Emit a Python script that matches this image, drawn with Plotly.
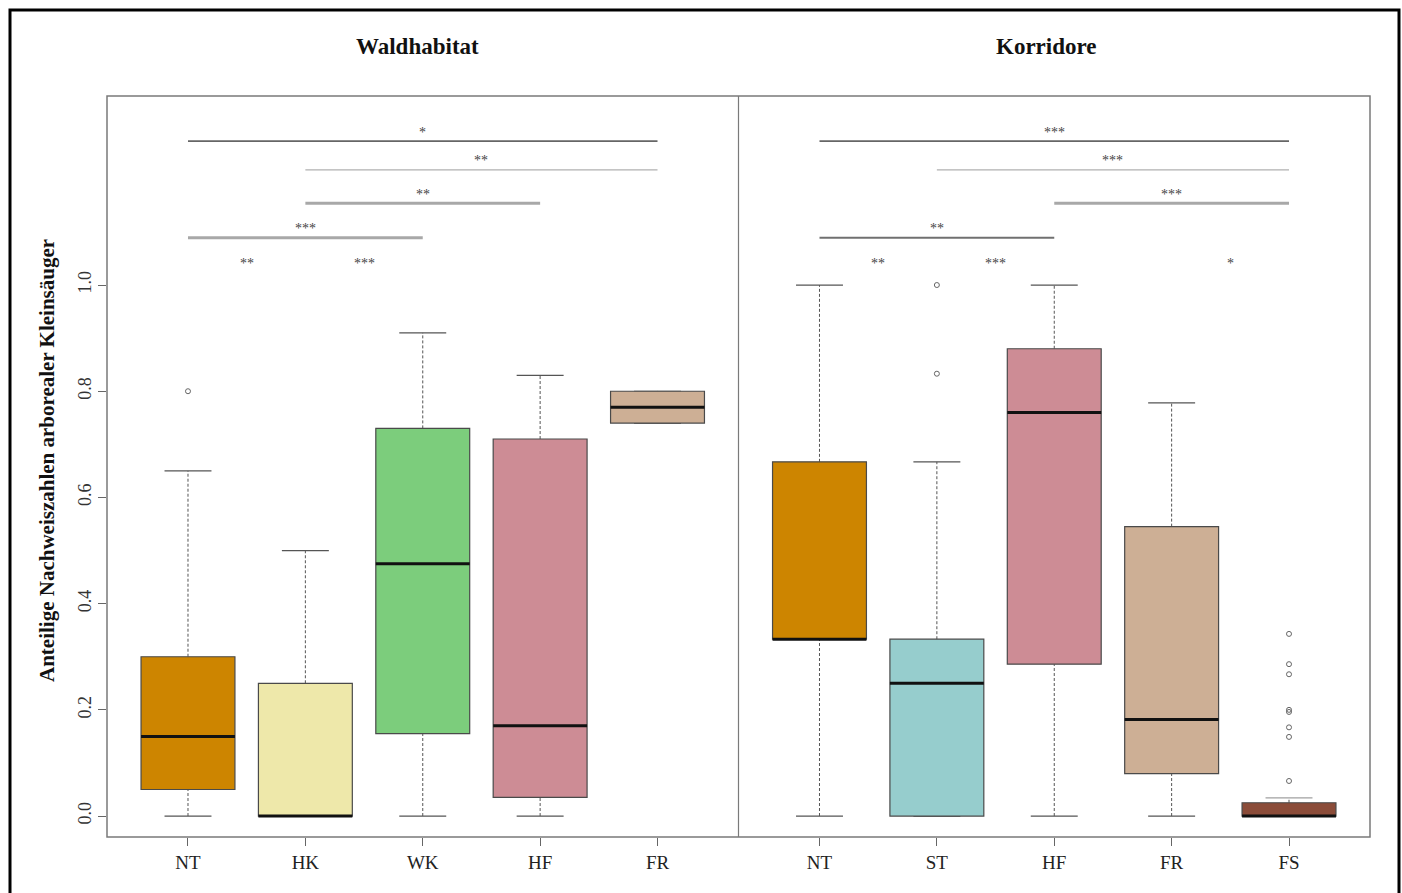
import plotly.graph_objects as go
from plotly.subplots import make_subplots

# ---------------- data ----------------
panel_titles = ["Waldhabitat", "Korridore"]

wald_cats = ["NT", "HK", "WK", "HF", "FR"]
wald_lower = [0.0, 0.0, 0.0, 0.0, 0.74]
wald_q1 = [0.05, 0.0, 0.155, 0.035, 0.74]
wald_median = [0.15, 0.0, 0.475, 0.17, 0.77]
wald_q3 = [0.30, 0.25, 0.73, 0.71, 0.80]
wald_upper = [0.65, 0.50, 0.91, 0.83, 0.80]
wald_outliers = [[0.80], [], [], [], []]
wald_colors = ["#CD8500", "#EEE8AA", "#7CCD7C", "#CD8C95", "#CDAF95"]

korr_cats = ["NT", "ST", "HF", "FR", "FS"]
korr_lower = [0.0, 0.0, 0.0, 0.0, 0.0]
korr_q1 = [0.333, 0.0, 0.286, 0.08, 0.0]
korr_median = [0.333, 0.25, 0.76, 0.182, 0.0]
korr_q3 = [0.667, 0.333, 0.88, 0.545, 0.025]
korr_upper = [1.0, 0.667, 1.0, 0.778, 0.034]
korr_outliers = [[], [0.833, 1.0], [], [],
                 [0.343, 0.286, 0.267, 0.2, 0.196, 0.167, 0.149, 0.066]]
korr_colors = ["#CD8500", "#96CDCD", "#CD8C95", "#CDAF95", "#8B4C39"]

# significance brackets: (from index, to index, line y, label, colour, width)
wald_sig_from = [1, 2, 2, 1]
wald_sig_to = [5, 5, 4, 3]
wald_sig_y = [1.271, 1.217, 1.154, 1.089]
wald_sig_label = ["*", "**", "**", "***"]
wald_sig_color = ["#666666", "#B0B0B0", "#A8A8A8", "#A8A8A8"]
wald_sig_width = [1.8, 1.2, 3, 3]
wald_pair_pos = [1.5, 2.5]
wald_pair_label = ["**", "***"]

korr_sig_from = [1, 2, 3, 1]
korr_sig_to = [5, 5, 5, 3]
korr_sig_y = [1.271, 1.217, 1.154, 1.089]
korr_sig_label = ["***", "***", "***", "**"]
korr_sig_color = ["#666666", "#B0B0B0", "#A8A8A8", "#707070"]
korr_sig_width = [1.8, 1.2, 3, 1.8]
korr_pair_pos = [1.5, 2.5, 4.5]
korr_pair_label = ["**", "***", "*"]

y_ticks = [0.0, 0.2, 0.4, 0.6, 0.8, 1.0]
y_ticktext = ["0.0", "0.2", "0.4", "0.6", "0.8", "1.0"]

# ---------------- figure ----------------
W, H = 1402, 893
ML, MR, MT, MB = 107, 32, 96, 56
PW, PH = W - ML - MR, H - MT - MB

fig = make_subplots(rows=1, cols=2, shared_yaxes=True, horizontal_spacing=0)

SERIF = "Liberation Serif, Times New Roman, serif"
shapes = []
annotations = []

panels = [
    (wald_cats, wald_lower, wald_q1, wald_median, wald_q3, wald_upper, wald_outliers, wald_colors,
     wald_sig_from, wald_sig_to, wald_sig_y, wald_sig_label, wald_sig_color, wald_sig_width,
     wald_pair_pos, wald_pair_label, "x", "y"),
    (korr_cats, korr_lower, korr_q1, korr_median, korr_q3, korr_upper, korr_outliers, korr_colors,
     korr_sig_from, korr_sig_to, korr_sig_y, korr_sig_label, korr_sig_color, korr_sig_width,
     korr_pair_pos, korr_pair_label, "x2", "y"),
]

BOX_HALF = 0.4
CAP_HALF = 0.2
WHISK = dict(color="#555555", width=1, dash="3px,2px")
for pi, (cats, lo, q1, med, q3, up, outl, cols, sf, st, sy, sl, sc, sw, pp, plab, xr, yr) in enumerate(panels):
    for i, c in enumerate(cats):
        x = i + 1
        # whiskers (dashed)
        shapes.append(dict(type="line", xref=xr, yref=yr, x0=x, x1=x, y0=q3[i], y1=up[i], line=WHISK))
        shapes.append(dict(type="line", xref=xr, yref=yr, x0=x, x1=x, y0=lo[i], y1=q1[i], line=WHISK))
        # caps
        cap_col = "#A0A0A0" if 0 < up[i] - q3[i] < 0.02 else "#555555"
        shapes.append(dict(type="line", xref=xr, yref=yr, x0=x - CAP_HALF, x1=x + CAP_HALF,
                           y0=up[i], y1=up[i], line=dict(color=cap_col, width=1.2)))
        shapes.append(dict(type="line", xref=xr, yref=yr, x0=x - CAP_HALF, x1=x + CAP_HALF,
                           y0=lo[i], y1=lo[i], line=dict(color="#555555", width=1.2)))
        # box
        shapes.append(dict(type="rect", xref=xr, yref=yr, x0=x - BOX_HALF, x1=x + BOX_HALF,
                           y0=q1[i], y1=q3[i], fillcolor=cols[i],
                           line=dict(color="#4A4A4A", width=1.2)))
        # median
        shapes.append(dict(type="line", xref=xr, yref=yr, x0=x - BOX_HALF, x1=x + BOX_HALF,
                           y0=med[i], y1=med[i], line=dict(color="#111111", width=3)))
        # outliers
        if outl[i]:
            fig.add_trace(go.Scatter(x=[x] * len(outl[i]), y=outl[i], mode="markers",
                                     marker=dict(symbol="circle-open", size=5,
                                                 color="#666666", line=dict(width=1)),
                                     showlegend=False, hoverinfo="y"),
                          row=1, col=pi + 1)
    # significance brackets
    for k in range(len(sf)):
        shapes.append(dict(type="line", xref=xr, yref=yr, x0=sf[k], x1=st[k], y0=sy[k], y1=sy[k],
                           line=dict(color=sc[k], width=sw[k])))
        annotations.append(dict(xref=xr, yref=yr, x=(sf[k] + st[k]) / 2, y=sy[k] + 0.017,
                                xanchor="center", yanchor="middle",
                                text=sl[k], showarrow=False,
                                font=dict(family=SERIF, size=14, color="#444444")))
    for k in range(len(pp)):
        annotations.append(dict(xref=xr, yref=yr, x=pp[k], y=1.041, text=plab[k], showarrow=False,
                                xanchor="center", yanchor="middle",
                                font=dict(family=SERIF, size=14, color="#444444")))

# panel titles
annotations.append(dict(xref="paper", yref="paper", x=(417 - ML) / PW, y=(H - MB - 47) / PH,
                        xanchor="center", yanchor="middle",
                        text="<b>" + panel_titles[0] + "</b>", showarrow=False,
                        font=dict(family=SERIF, size=23, color="#111111")))
annotations.append(dict(xref="paper", yref="paper", x=(1046 - ML) / PW, y=(H - MB - 47) / PH,
                        xanchor="center", yanchor="middle",
                        text="<b>" + panel_titles[1] + "</b>", showarrow=False,
                        font=dict(family=SERIF, size=23, color="#111111")))
# y axis title
annotations.append(dict(xref="paper", yref="paper", x=(47 - ML) / PW, y=(H - MB - 461) / PH,
                        xanchor="center", yanchor="middle",
                        text="<b>Anteilige Nachweiszahlen arborealer Kleinsäuger</b>",
                        textangle=-90, showarrow=False,
                        font=dict(family=SERIF, size=21, color="#111111")))

# plot frame, divider, outer border
shapes.append(dict(type="rect", xref="paper", yref="paper", x0=0, x1=1, y0=0, y1=1,
                   line=dict(color="#7A7A7A", width=1.5), layer="above"))
shapes.append(dict(type="line", xref="paper", yref="paper", x0=0.5, x1=0.5, y0=0, y1=1,
                   line=dict(color="#7A7A7A", width=1.2), layer="above"))
shapes.append(dict(type="rect", xref="paper", yref="paper",
                   x0=(10 - ML) / PW, x1=(1399 - ML) / PW,
                   y0=(H - MB - 900) / PH, y1=(H - MB - 10) / PH,
                   line=dict(color="#000000", width=3)))

xaxis_style = dict(range=[0.31, 5.69], tickmode="array", tickvals=[1, 2, 3, 4, 5],
                   ticks="outside", ticklen=8, tickcolor="#666666", tickwidth=1,
                   showgrid=False, zeroline=False, showline=False,
                   tickfont=dict(family=SERIF, size=19, color="#222222"))
fig.update_xaxes(**xaxis_style)
fig.update_xaxes(ticktext=wald_cats, row=1, col=1)
fig.update_xaxes(ticktext=korr_cats, row=1, col=2)
fig.update_yaxes(range=[-0.0395, 1.356], tickmode="array", tickvals=y_ticks, ticktext=y_ticktext,
                 tickangle=-90, ticks="outside", ticklen=8, tickcolor="#666666",
                 showgrid=False, zeroline=False, showline=False,
                 tickfont=dict(family=SERIF, size=18, color="#333333"))
fig.update_yaxes(ticks="", showticklabels=False, row=1, col=2)

fig.update_layout(width=W, height=H, margin=dict(l=ML, r=MR, t=MT, b=MB),
                  paper_bgcolor="white", plot_bgcolor="white",
                  shapes=shapes, annotations=annotations, showlegend=False)

fig.write_html("out.html", config={"displayModeBar": False},
               post_script="document.body.style.margin='0';document.body.style.overflow='hidden';")
